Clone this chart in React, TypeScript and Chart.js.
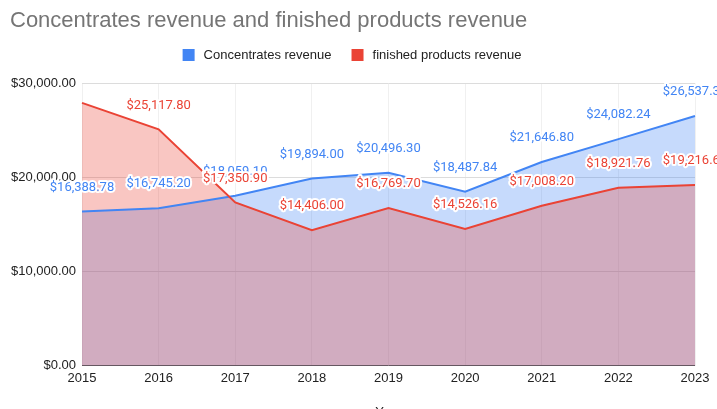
import React, { useEffect, useRef } from "react";
import { Chart, registerables } from "chart.js";

Chart.register(...registerables);

const chartTitle = "Concentrates revenue and finished products revenue";
const xAxisTitle = "Year";
const years = ["2015", "2016", "2017", "2018", "2019", "2020", "2021", "2022", "2023"];
const concentratesLabel = "Concentrates revenue";
const finishedLabel = "finished products revenue";
const concentratesRevenue = [16388.78, 16745.2, 18059.1, 19894.0, 20496.3, 18487.84, 21646.8, 24082.24, 26537.3];
const finishedRevenue = [27930.0, 25117.8, 17350.9, 14406.0, 16769.7, 14526.16, 17008.2, 18921.76, 19216.6];
const yTicks = [0, 10000, 20000, 30000];

const BLUE = "#4285F4";
const RED = "#EA4335";
const AXIS_FONT = "Arial, 'Liberation Sans', sans-serif";

const money = (v: number) =>
  "$" + v.toLocaleString("en-US", { minimumFractionDigits: 2, maximumFractionDigits: 2 });

const dataLabelPlugin = {
  id: "dataLabels",
  afterDatasetsDraw(chart: any) {
    const ctx = chart.ctx;
    const area = chart.chartArea;
    ctx.save();
    ctx.font = "13px Roboto, Arial, sans-serif";
    ctx.textAlign = "center";
    ctx.textBaseline = "middle";
    ctx.lineJoin = "round";
    chart.data.datasets.forEach((ds: any, di: number) => {
      const meta = chart.getDatasetMeta(di);
      meta.data.forEach((pt: any, i: number) => {
        const y = pt.y - 24;
        if (y - 7 < area.top) return;
        const txt = money(ds.data[i]);
        ctx.strokeStyle = "#ffffff";
        ctx.lineWidth = 4;
        ctx.strokeText(txt, pt.x, y);
        ctx.fillStyle = ds.borderColor;
        ctx.fillText(txt, pt.x, y);
      });
    });
    ctx.restore();
  },
};

const legendPlugin = {
  id: "customLegend",
  afterDraw(chart: any) {
    const ctx = chart.ctx;
    ctx.save();
    ctx.font = "13px " + AXIS_FONT;
    ctx.textBaseline = "middle";
    ctx.textAlign = "left";
    const box = 12;
    const gapText = 9;
    const gapItem = 20;
    const cy = 55;
    const items = chart.data.datasets.map((ds: any) => ({
      text: ds.label,
      color: ds.borderColor,
      w: ctx.measureText(ds.label).width,
    }));
    let total = 0;
    items.forEach((it: any, i: number) => {
      total += box + gapText + it.w + (i > 0 ? gapItem : 0);
    });
    let x = 352 - total / 2;
    items.forEach((it: any) => {
      ctx.fillStyle = it.color;
      ctx.fillRect(x, cy - box / 2, box, box);
      x += box + gapText;
      ctx.fillStyle = "#222222";
      ctx.fillText(it.text, x, cy);
      x += it.w + gapItem;
    });
    ctx.restore();
  },
};

export default function App() {
  const ref = useRef<HTMLCanvasElement | null>(null);

  useEffect(() => {
    if (!ref.current) return;
    const chart = new Chart(ref.current, {
      type: "line",
      data: {
        labels: years,
        datasets: [
          {
            label: concentratesLabel,
            data: concentratesRevenue,
            borderColor: BLUE,
            backgroundColor: "rgba(66,133,244,0.3)",
            borderWidth: 2,
            pointRadius: 0,
            tension: 0,
            fill: "origin",
            order: 1,
          },
          {
            label: finishedLabel,
            data: finishedRevenue,
            borderColor: RED,
            backgroundColor: "rgba(234,67,53,0.3)",
            borderWidth: 2,
            pointRadius: 0,
            tension: 0,
            fill: "origin",
            order: 0,
          },
        ],
      },
      options: {
        responsive: false,
        animation: false,
        layout: { padding: { left: 10, right: 22, top: 0, bottom: 0 } },
        plugins: {
          legend: { display: false },
          tooltip: { enabled: false },
          filler: { drawTime: "beforeDatasetsDraw" },
          title: {
            display: true,
            text: chartTitle,
            align: "start",
            color: "#757575",
            font: { family: AXIS_FONT, size: 22, weight: "normal" },
            padding: { top: 8, bottom: 49 },
          },
        },
        scales: {
          x: {
            grid: { color: "#f0f0f0", drawTicks: false },
            border: { display: false },
            ticks: {
              color: "#222222",
              font: { family: AXIS_FONT, size: 13 },
              padding: 5,
              maxRotation: 0,
              autoSkip: false,
            },
            title: {
              display: true,
              text: xAxisTitle,
              color: "#222222",
              font: { family: AXIS_FONT, size: 13 },
              padding: { top: 13, bottom: 4 },
            },
          },
          y: {
            min: yTicks[0],
            max: yTicks[yTicks.length - 1],
            afterBuildTicks: (scale: any) => {
              scale.ticks = yTicks.map((v) => ({ value: v }));
            },
            afterFit: (scale: any) => {
              scale.width = 72;
            },
            grid: {
              color: (c: any) => (c.tick && c.tick.value === 0 ? "#555555" : "#dcdcdc"),
              drawTicks: false,
            },
            border: { display: false },
            ticks: {
              color: "#222222",
              font: { family: AXIS_FONT, size: 13 },
              padding: 6,
              callback: (v: any) => money(Number(v)),
            },
          },
        },
      },
      plugins: [dataLabelPlugin, legendPlugin],
    } as any);
    return () => chart.destroy();
  }, []);

  return (
    <div
      style={{
        position: "absolute",
        left: 0,
        top: 0,
        width: 717,
        height: 409,
        overflow: "hidden",
        background: "#ffffff",
      }}
    >
      <canvas ref={ref} width={717} height={424} style={{ display: "block" }} />
    </div>
  );
}
